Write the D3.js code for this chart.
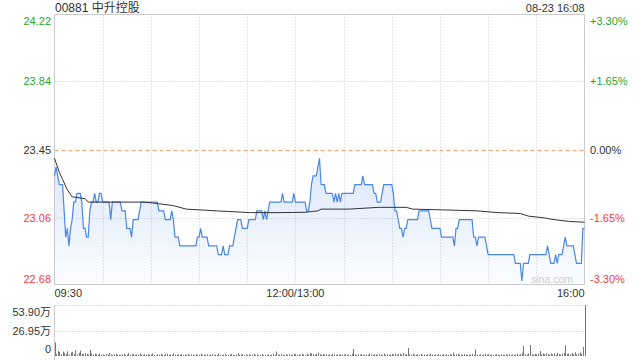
<!DOCTYPE html>
<html>
<head>
<meta charset="utf-8">
<script src="https://cdn.jsdelivr.net/npm/d3@7"></script>
<style>
  body { margin: 0; background: #fff; }
  text { font-family: "Liberation Sans", Arial, "Noto Sans CJK SC", sans-serif; }
</style>
</head>
<body>
<script>
// 1. data
var title = "00881 中升控股";
var stamp = "08-23 16:08";
var prevClose = 23.45;

var timeLabels = ["09:30", "12:00/13:00", "16:00"];
var timeTicks = [0, 150, 330];          // minutes since open (lunch removed)
var priceTicks = [24.22, 23.84, 23.45, 23.06, 22.68];
var pctTicks = ["+3.30%", "+1.65%", "0.00%", "-1.65%", "-3.30%"];
var volTicks = ["53.90万", "26.95万", "0"];

// minute prices, 0 .. 330
var prices = [
  23.30, 23.35, 23.30, 23.25, 23.25, 23.25, 23.10, 22.95, 23.00, 22.90,
  23.00, 23.05, 23.15, 23.15, 23.20, 23.20, 23.20, 23.15, 23.00, 23.00,
  22.95, 22.95, 23.10, 23.15, 23.15, 23.20, 23.15, 23.15, 23.20, 23.20,
  23.15, 23.15, 23.15, 23.15, 23.15, 23.05, 23.15, 23.15, 23.15, 23.15,
  23.15, 23.15, 23.10, 23.10, 23.10, 23.00, 23.00, 23.00, 22.95, 23.05,
  23.05, 23.05, 23.05, 23.10, 23.15, 23.15, 23.15, 23.15, 23.15, 23.15,
  23.15, 23.15, 23.15, 23.15, 23.15, 23.10, 23.10, 23.10, 23.10, 23.05,
  23.05, 23.05, 23.05, 23.10, 23.05, 22.95, 22.95, 22.95, 22.90, 22.90,
  22.90, 22.90, 22.90, 22.90, 22.90, 22.90, 22.90, 22.90, 22.90, 22.95,
  22.95, 23.00, 22.95, 22.95, 22.95, 22.95, 22.90, 22.90, 22.90, 22.90,
  22.90, 22.90, 22.85, 22.85, 22.85, 22.90, 22.85, 22.85, 22.85, 22.90,
  22.90, 22.90, 22.95, 23.00, 23.05, 23.05, 23.05, 23.00, 23.00, 23.00,
  23.00, 23.05, 23.05, 23.05, 23.05, 23.05, 23.10, 23.10, 23.10, 23.10,
  23.05, 23.10, 23.05, 23.10, 23.15, 23.15, 23.15, 23.15, 23.15, 23.15,
  23.15, 23.15, 23.20, 23.15, 23.15, 23.15, 23.15, 23.15, 23.15, 23.20,
  23.15, 23.15, 23.15, 23.15, 23.15, 23.15, 23.15, 23.10, 23.10, 23.15,
  23.25, 23.30, 23.30, 23.30, 23.35, 23.40, 23.25, 23.25, 23.25, 23.20,
  23.20, 23.20, 23.20, 23.20, 23.15, 23.20, 23.15, 23.20, 23.15, 23.20,
  23.20, 23.20, 23.20, 23.20, 23.20, 23.20, 23.20, 23.25, 23.25, 23.25,
  23.25, 23.25, 23.30, 23.25, 23.25, 23.25, 23.25, 23.25, 23.25, 23.20,
  23.20, 23.15, 23.15, 23.15, 23.20, 23.25, 23.25, 23.25, 23.25, 23.25,
  23.25, 23.20, 23.10, 23.10, 23.05, 23.00, 23.00, 22.95, 23.00, 23.00,
  23.05, 23.05, 23.05, 23.05, 23.05, 23.05, 23.05, 23.10, 23.10, 23.10,
  23.10, 23.10, 23.10, 23.10, 23.05, 23.00, 23.00, 23.00, 23.00, 23.00,
  23.00, 22.95, 22.95, 22.95, 22.95, 22.95, 22.95, 22.95, 22.95, 22.90,
  23.00, 23.00, 23.05, 23.05, 23.05, 23.05, 23.05, 23.05, 23.05, 23.05,
  23.05, 22.95, 22.95, 22.90, 22.95, 22.95, 22.95, 22.95, 22.95, 22.90,
  22.85, 22.85, 22.85, 22.85, 22.85, 22.85, 22.85, 22.85, 22.85, 22.85,
  22.85, 22.85, 22.85, 22.85, 22.85, 22.85, 22.85, 22.80, 22.80, 22.80,
  22.80, 22.70, 22.80, 22.80, 22.80, 22.80, 22.85, 22.85, 22.85, 22.85,
  22.85, 22.85, 22.85, 22.85, 22.85, 22.85, 22.85, 22.90, 22.85, 22.80,
  22.80, 22.80, 22.85, 22.80, 22.85, 22.85, 22.85, 22.90, 22.95, 22.90,
  22.90, 22.90, 22.90, 22.90, 22.85, 22.80, 22.80, 22.80, 22.80, 23.00,
  23.00
];

// average price line, [minute, price]
var avgMinutes = [0, 3, 5, 8, 11, 19, 21, 30, 55, 61, 74, 82, 101, 122, 141, 156, 164, 166, 183, 202, 219, 223, 244, 263, 276, 290, 295, 305, 311, 320, 330];
var avgPrices = [23.40, 23.32, 23.28, 23.22, 23.18, 23.17, 23.15, 23.15, 23.15, 23.145, 23.13, 23.11, 23.10, 23.09, 23.09, 23.092, 23.10, 23.11, 23.11, 23.12, 23.12, 23.11, 23.105, 23.10, 23.09, 23.085, 23.07, 23.06, 23.05, 23.04, 23.035];

// minute volume, in 万
var volumes = [
  14.2, 2.1, 5.3, 4.2, 1.8, 4.6, 3.1, 2.2, 5.0, 1.5,
  3.8, 4.4, 2.0, 6.1, 1.7, 3.3, 5.6, 2.4, 1.9, 3.0,
  2.2, 1.6, 6.4, 2.8, 1.4, 2.5, 1.9, 1.2, 2.6, 1.5,
  1.8, 1.1, 2.3, 1.4, 3.2, 1.6, 1.0, 1.7, 2.1, 1.3,
  1.5, 1.2, 1.9, 2.4, 1.0, 1.6, 3.0, 1.4, 1.8, 2.2,
  1.1, 1.7, 1.3, 2.6, 1.5, 1.0, 1.9, 1.2, 2.0, 1.4,
  1.6, 2.8, 1.2, 1.0, 1.8, 1.3, 2.2, 1.5, 1.1, 1.9,
  2.4, 1.3, 1.7, 1.0, 2.9, 1.5, 1.2, 1.8, 1.4, 2.1,
  1.0, 1.6, 1.3, 2.3, 1.1, 1.7, 1.2, 1.0, 1.9, 1.4,
  1.2, 2.5, 1.0, 1.5, 1.3, 1.8, 1.1, 1.6, 2.0, 1.2,
  1.4, 1.0, 2.7, 1.3, 1.1, 1.5, 1.9, 1.0, 1.2, 1.7,
  2.2, 1.3, 1.0, 1.6, 3.1, 1.2, 1.4, 1.8, 1.1, 1.5,
  1.3, 1.9, 1.0, 1.4, 2.4, 1.2, 1.6, 1.1, 1.3, 2.0,
  1.0, 1.5, 1.2, 1.8, 1.1, 1.4, 2.6, 1.0, 4.8, 1.6,
  1.3, 2.1, 1.2, 1.0, 1.7, 1.4, 1.9, 1.1, 1.5, 2.3,
  2.0, 1.4, 1.8, 1.2, 2.5, 1.6, 1.1, 2.2, 1.5, 3.0,
  2.6, 1.9, 1.4, 2.1, 3.4, 1.7, 1.3, 2.0, 1.5, 1.8,
  1.2, 1.6, 1.0, 2.3, 1.4, 1.1, 1.8, 1.3, 2.0, 1.5,
  1.4, 1.9, 1.2, 1.6, 1.0, 2.4, 7.4, 1.5, 1.2, 1.8,
  1.3, 2.2, 1.0, 1.5, 1.7, 1.2, 2.6, 1.4, 1.1, 1.9,
  1.6, 1.2, 2.0, 1.4, 1.0, 2.5, 1.3, 1.7, 1.1, 1.5,
  2.1, 1.8, 2.6, 1.5, 1.9, 2.3, 1.4, 3.2, 1.6, 2.0,
  8.5, 1.7, 1.3, 2.4, 1.5, 1.1, 1.9, 1.4, 2.2, 1.2,
  1.6, 1.0, 1.8, 1.3, 2.5, 1.4, 1.1, 1.7, 1.2, 2.0,
  1.5, 1.3, 2.1, 1.0, 1.6, 1.2, 1.9, 1.4, 3.6, 1.1,
  1.8, 2.4, 1.3, 1.6, 1.1, 2.0, 1.4, 1.2, 1.7, 1.5,
  2.2, 1.3, 6.9, 1.5, 1.2, 1.8, 1.0, 1.6, 2.3, 1.4,
  2.0, 1.2, 1.6, 1.1, 1.5, 1.9, 1.3, 1.0, 1.7, 1.4,
  1.2, 1.8, 1.4, 2.1, 1.0, 1.6, 1.3, 1.5, 2.4, 1.2,
  2.0, 3.5, 10.8, 1.8, 1.4, 2.6, 11.6, 1.9, 1.5, 2.2,
  1.7, 2.4, 5.2, 1.5, 2.8, 1.9, 3.1, 2.0, 1.6, 2.5,
  1.8, 2.9, 1.4, 3.3, 2.1, 1.6, 2.4, 3.0, 11.4, 2.2,
  2.6, 1.9, 3.4, 2.1, 4.0, 1.8, 2.7, 3.8, 2.3, 9.6,
  53.9
];

// 2. layout
var W = 640, H = 360;
var left = 54.5, right = 584.5;
var pTop = 14.5, pBot = 284.5;
var vTop = 305, vBot = 356;

var lineColor = "#4a88e8";
var green = "#2aa52a", red = "#f03c3c", dark = "#333";
var tickColors = [green, green, dark, red, red];

var svg = d3.select("body").append("svg")
    .attr("width", W)
    .attr("height", H);

var x = d3.scaleLinear().domain([0, 330]).range([left, right]);
var y = d3.scaleLinear().domain([22.68, 24.22]).range([pBot, pTop]);
var yv = d3.scaleLinear().domain([0, d3.max(volumes)]).range([vBot, vTop]);

// gradient fill under the price line
var defs = svg.append("defs");
var grad = defs.append("linearGradient")
    .attr("id", "fill")
    .attr("gradientUnits", "userSpaceOnUse")
    .attr("x1", 0).attr("x2", 0)
    .attr("y1", y(d3.max(prices))).attr("y2", pBot);
grad.append("stop").attr("offset", 0).attr("stop-color", lineColor).attr("stop-opacity", 0.2);
grad.append("stop").attr("offset", 1).attr("stop-color", lineColor).attr("stop-opacity", 0.02);

// 3. grid
var gridX = d3.range(30, 330, 30);
svg.selectAll(".vgrid")
  .data(gridX)
  .enter()
  .append("line")
    .attr("class", "vgrid")
    .attr("x1", d => Math.round(x(d)) + 0.5)
    .attr("x2", d => Math.round(x(d)) + 0.5)
    .attr("y1", pTop).attr("y2", pBot)
    .attr("stroke", "#ccc")
    .attr("stroke-dasharray", "1,2");

svg.selectAll(".hgrid")
  .data([23.84, 23.06])
  .enter()
  .append("line")
    .attr("class", "hgrid")
    .attr("x1", left).attr("x2", right)
    .attr("y1", d => Math.round(y(d)) + 0.5)
    .attr("y2", d => Math.round(y(d)) + 0.5)
    .attr("stroke", "#ccc")
    .attr("stroke-dasharray", "1,2");

// previous close
svg.append("line")
    .attr("x1", left).attr("x2", right)
    .attr("y1", Math.round(y(prevClose)) + 0.5)
    .attr("y2", Math.round(y(prevClose)) + 0.5)
    .attr("stroke", "#f0a070")
    .attr("stroke-dasharray", "4,3");

// frame
svg.append("rect")
    .attr("x", left).attr("y", pTop)
    .attr("width", right - left).attr("height", pBot - pTop)
    .attr("fill", "none")
    .attr("stroke", "#ccc");

// 4. price area + lines
var area = d3.area()
    .x((d, i) => x(i))
    .y0(pBot)
    .y1(d => y(d));
svg.append("path")
    .datum(prices)
    .attr("d", area)
    .attr("fill", "url(#fill)");

svg.append("path")
    .datum(prices)
    .attr("d", d3.line().x((d, i) => x(i)).y(d => y(d)))
    .attr("fill", "none")
    .attr("stroke", lineColor)
    .attr("stroke-width", 1.2);

svg.append("path")
    .datum(avgMinutes)
    .attr("d", d3.line().x(d => x(d)).y((d, i) => y(avgPrices[i])))
    .attr("fill", "none")
    .attr("stroke", "#333")
    .attr("stroke-width", 1);

svg.append("text")
    .attr("x", 573).attr("y", 283)
    .attr("text-anchor", "end")
    .attr("font-size", "10.5px")
    .attr("fill", "#ccc")
    .text("sina.com");

// 5. labels
svg.append("text")
    .attr("x", 55).attr("y", 12)
    .attr("font-size", "12px")
    .attr("fill", dark)
    .text(title);

svg.append("text")
    .attr("x", right).attr("y", 12)
    .attr("text-anchor", "end")
    .attr("font-size", "11px")
    .attr("fill", dark)
    .text(stamp);

var nudge = [6, 0, 0, 0, -6];
svg.selectAll(".pl")
  .data(priceTicks)
  .enter()
  .append("text")
    .attr("class", "pl")
    .attr("x", 51)
    .attr("y", (d, i) => y(d) + nudge[i] + 4)
    .attr("text-anchor", "end")
    .attr("font-size", "11px")
    .attr("fill", (d, i) => tickColors[i])
    .text(d => d.toFixed(2));

svg.selectAll(".pr")
  .data(pctTicks)
  .enter()
  .append("text")
    .attr("class", "pr")
    .attr("x", 590)
    .attr("y", (d, i) => y(priceTicks[i]) + nudge[i] + 4)
    .attr("font-size", "11px")
    .attr("fill", (d, i) => tickColors[i])
    .text(d => d);

var anchors = ["start", "middle", "end"];
svg.selectAll(".tl")
  .data(timeLabels)
  .enter()
  .append("text")
    .attr("class", "tl")
    .attr("x", (d, i) => i == 0 ? left : (i == 2 ? right : x(timeTicks[i])))
    .attr("y", 297)
    .attr("text-anchor", (d, i) => anchors[i])
    .attr("font-size", "11px")
    .attr("fill", dark)
    .text(d => d);

// 6. volume panel
var vmax = d3.max(volumes);
svg.selectAll(".vg")
  .data([vmax, vmax / 2])
  .enter()
  .append("line")
    .attr("class", "vg")
    .attr("x1", left).attr("x2", right)
    .attr("y1", d => Math.round(yv(d)) + 0.5)
    .attr("y2", d => Math.round(yv(d)) + 0.5)
    .attr("stroke", "#bbb")
    .attr("stroke-dasharray", "1,2");

svg.append("line")
    .attr("x1", left).attr("x2", left)
    .attr("y1", vTop).attr("y2", H)
    .attr("stroke", "#ccc");

svg.selectAll(".vb")
  .data(volumes)
  .enter()
  .append("line")
    .attr("class", "vb")
    .attr("x1", (d, i) => Math.round(x(i)) + 0.5)
    .attr("x2", (d, i) => Math.round(x(i)) + 0.5)
    .attr("y1", vBot)
    .attr("y2", d => yv(d))
    .attr("stroke", "#777")
    .attr("stroke-width", 1);

var vNudge = [6.5, 0, -7];
var vVals = [vmax, vmax / 2, 0];
svg.selectAll(".vl")
  .data(volTicks)
  .enter()
  .append("text")
    .attr("class", "vl")
    .attr("x", 51)
    .attr("y", (d, i) => yv(vVals[i]) + vNudge[i] + 4)
    .attr("text-anchor", "end")
    .attr("font-size", "11px")
    .attr("fill", dark)
    .text(d => d);
</script>
</body>
</html>
